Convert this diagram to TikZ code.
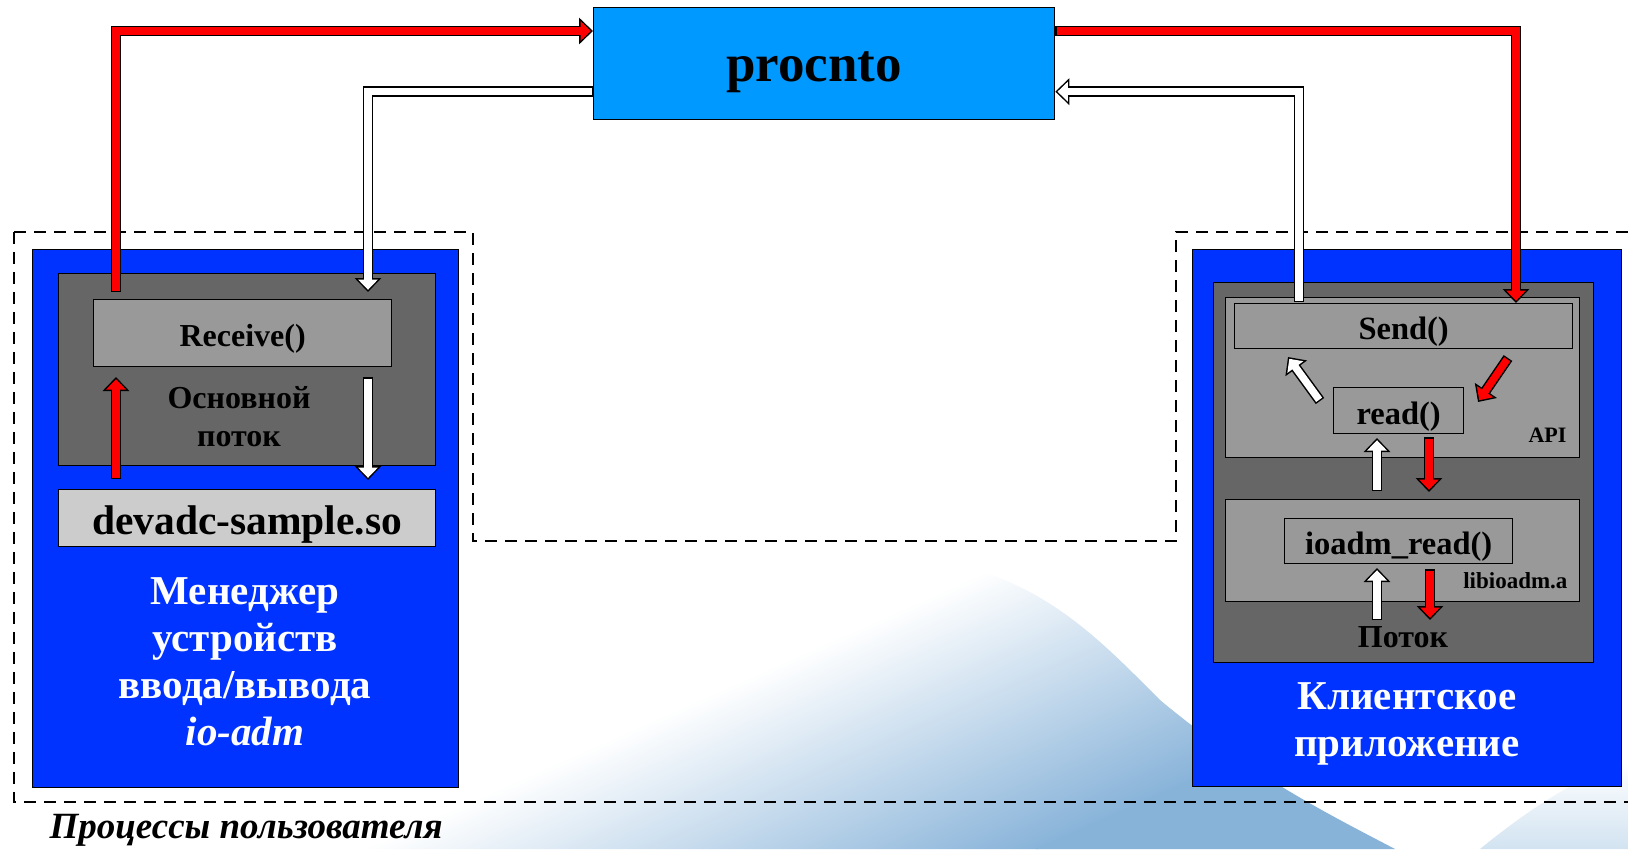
\documentclass[tikz,border=0pt]{standalone}
\usepackage{fontspec}
\setmainfont{Liberation Serif}
\usetikzlibrary{arrows.meta}

\definecolor{kernelblue}{HTML}{0099FF}
\definecolor{procblue}{HTML}{0033FF}
\definecolor{darkgrey}{HTML}{666666}
\definecolor{midgrey}{HTML}{999999}
\definecolor{lightgrey}{HTML}{CCCCCC}
\definecolor{swoosh}{HTML}{88B3D9}
\definecolor{swooshpale}{HTML}{D2E3F1}

\newcommand{\setsz}[2]{\fontsize{#1}{#2}\selectfont}

\tikzset{
  x=1pt, y=-1pt,
  box/.style={draw=black, line width=1.3pt, inner sep=0pt, anchor=north west,
              text height=29pt, text depth=2pt,
              font=\bfseries\setsz{32.5}{38}},
  flow/.style={line width=7.4pt, draw=#1,
               -{Triangle[length=10.3pt,width=19.2pt]},
               shorten >=2.2pt, shorten <=1.5pt,
               preaction={draw=black, line width=10.4pt,
                          -{Triangle[length=14pt,width=26pt]},
                          shorten >=0pt, shorten <=0pt}},
  redflow/.style={flow=red},
  whiteflow/.style={flow=white},
  region/.style={draw=black, line width=1.3pt, dash pattern=on 12pt off 8pt},
  caption/.style={text=white, align=center, font=\bfseries\setsz{41}{47}},
  small/.style={anchor=base east, font=\bfseries\setsz{22}{26}},
}

\begin{document}
\begin{tikzpicture}
\useasboundingbox (0,0) rectangle (1628,849);
\fill[white] (0,0) rectangle (1628,849);

% soft backdrop in the lower right: a diagonal wash cut by a white streak
\begin{scope}
  \clip (0,849) -- (0,560) -- (930,560) .. controls (1040,575) and (1100,640) .. (1160,700)
        .. controls (1250,775) and (1330,815) .. (1395,849) -- cycle;
  \begin{scope}[transform canvas={rotate around={24:(866,624)}}]
    \shade[top color=white, bottom color=swoosh] (-200,624) rectangle (1900,900);
    \fill[swoosh] (-200,899) rectangle (1900,1400);
  \end{scope}
\end{scope}
\shade[top color=white, bottom color=swooshpale]
  (1480,849) .. controls (1540,800) and (1590,772) .. (1628,762) -- (1628,849) -- cycle;

% user process area
\draw[region] (14,232) -- (473,232) -- (473,541) -- (1176,541) -- (1176,232) -- (1628,232);
\draw[region] (14,232) -- (14,802) -- (1628,802);
\node[anchor=base west, font=\bfseries\itshape\setsz{37}{42}] (userlbl) at (46,838) {Процессы пользователя};

% microkernel
\node[box, fill=kernelblue, minimum width=461pt, minimum height=112pt] (procnto) at (593,7) {};
\node[anchor=base, font=\bfseries\setsz{53}{60}] (procntolbl) at (814,81) {procnto};

% resource manager io-adm
\node[box, fill=procblue, minimum width=426pt, minimum height=538pt] (mgr) at (32,249) {};
\node[box, fill=darkgrey, minimum width=377pt, minimum height=192pt] (mainthr) at (58,273) {};
\node[box, fill=midgrey, minimum width=298pt, minimum height=67pt, text height=28pt,
      font=\bfseries\setsz{32}{38}] (recv) at (93,299) {Receive()};
\node[box, fill=lightgrey, minimum width=377pt, minimum height=57pt, text height=34pt,
      font=\bfseries\setsz{41.5}{48}] (dll) at (58,489) {devadc-sample.so};
\node[align=center, font=\bfseries\setsz{32}{38}] (mainlbl) at (239,417) {Основной\\поток};
\node[caption] (mgrlbl) at (245,662) {Менеджер\\устройств\\ввода/вывода\\\textit{io-adm}};

% client application
\node[box, fill=procblue, minimum width=429pt, minimum height=537pt] (client) at (1192,249) {};
\node[box, fill=darkgrey, minimum width=380pt, minimum height=380pt] (thr) at (1213,282) {};
\node[box, fill=midgrey, minimum width=354pt, minimum height=160pt] (api) at (1225,297) {};
\node[box, fill=midgrey, minimum width=338pt, minimum height=45pt] (send) at (1234,303) {Send()};
\node[box, fill=midgrey, minimum width=130pt, minimum height=46pt] (read) at (1333,387) {read()};
\node[box, fill=midgrey, minimum width=354pt, minimum height=102pt] (lib) at (1225,499) {};
\node[box, fill=midgrey, minimum width=228pt, minimum height=45pt] (ioread) at (1284,518) {ioadm\_read()};
\node[small] (apilbl) at (1570,442) {API};
\node[small, font=\bfseries\setsz{23}{27}] (liblbl) at (1571,588) {libioadm.a};
\node[anchor=base, font=\bfseries\setsz{32}{38}] (thrlbl) at (1403,647) {Поток};
\node[caption] (clientlbl) at (1407,724) {Клиентское\\приложение};

% arrow end points
\coordinate (recvout) at (116,292);
\coordinate (recvin)  at (368,292);
\coordinate (dllup)   at (116,479);
\coordinate (dllupt)  at (116,377);
\coordinate (dlldn)   at (368,377);
\coordinate (dlldnt)  at (368,480);
\coordinate (sendout) at (1299,302);
\coordinate (sendin)  at (1516,303);
\coordinate (rdup)    at (1320,401);
\coordinate (rdupt)   at (1288,357);
\coordinate (rddn)    at (1508,358);
\coordinate (rddnt)   at (1478,402);
\coordinate (apiup)   at (1377,491);
\coordinate (apiupt)  at (1377,438);
\coordinate (apidn)   at (1429,437);
\coordinate (apidnt)  at (1429,492);
\coordinate (libup)   at (1377,620);
\coordinate (libupt)  at (1377,568);
\coordinate (libdn)   at (1430,569);
\coordinate (libdnt)  at (1430,620);

% message passing through the kernel
\draw[redflow]   (recvout) |- ([yshift=-24pt]procnto.north west);
\draw[whiteflow] ([yshift=-28pt]procnto.west) -| (recvin);
\draw[redflow]   ([yshift=-24pt]procnto.north east) -| (sendin);
\draw[whiteflow] (sendout) |- ([yshift=-28pt]procnto.east);

% local calls
\draw[redflow]   (dllup) -- (dllupt);
\draw[whiteflow] (dlldn) -- (dlldnt);
\draw[whiteflow] (rdup) -- (rdupt);
\draw[redflow]   (rddn) -- (rddnt);
\draw[whiteflow] (apiup) -- (apiupt);
\draw[redflow]   (apidn) -- (apidnt);
\draw[whiteflow] (libup) -- (libupt);
\draw[redflow]   (libdn) -- (libdnt);
\end{tikzpicture}
\end{document}
